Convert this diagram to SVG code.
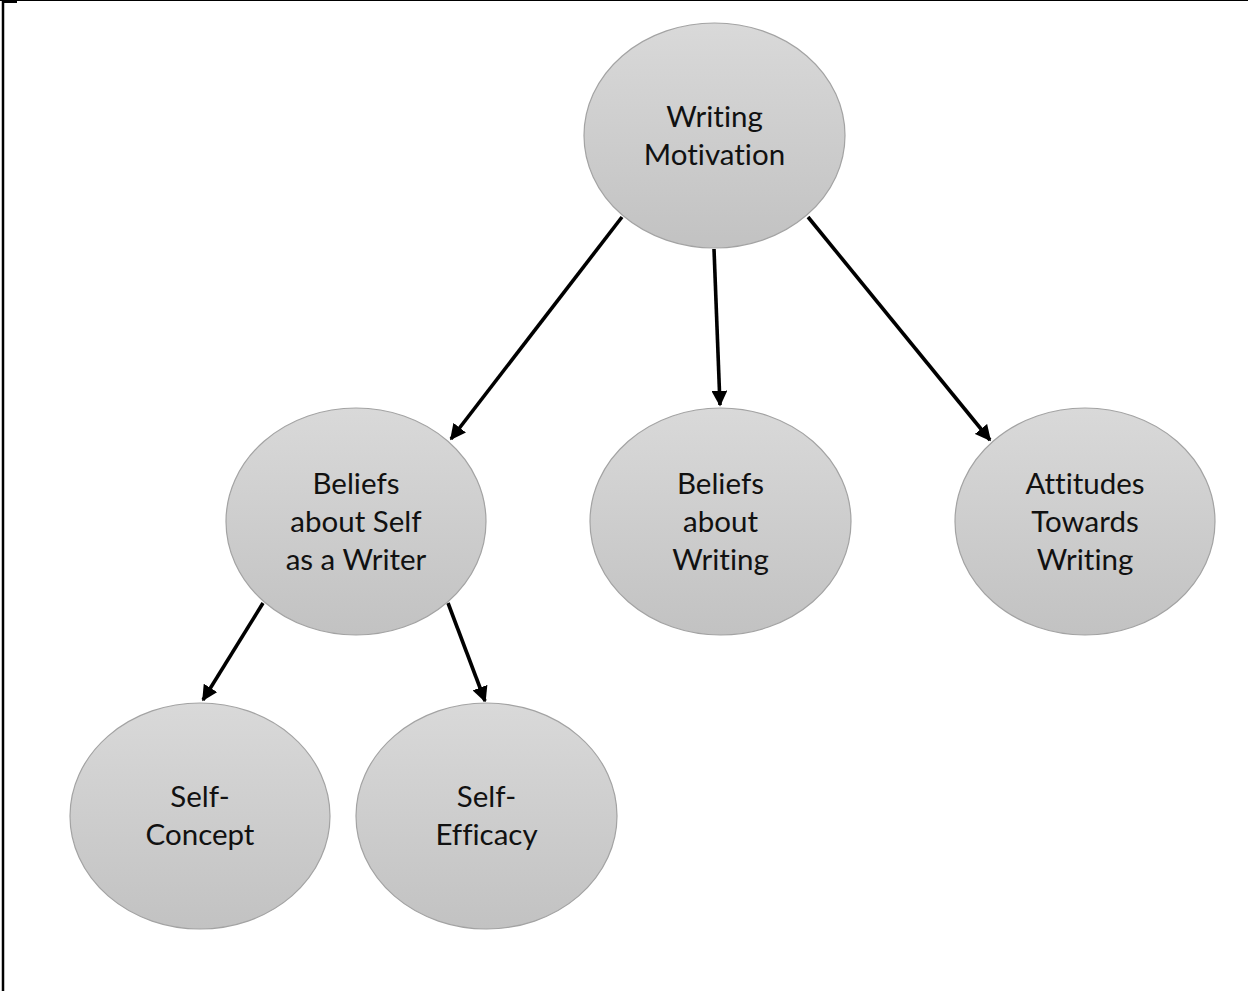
<svg xmlns="http://www.w3.org/2000/svg" width="1248" height="991" viewBox="0 0 1248 991">
  <defs>
    <linearGradient id="bubble" x1="0" y1="0" x2="0" y2="1">
      <stop offset="0" stop-color="#d9d9d9"/>
      <stop offset="1" stop-color="#c2c2c2"/>
    </linearGradient>
    <marker id="arrow" viewBox="0 0 10 10" refX="9" refY="5" markerWidth="4.4" markerHeight="4.4" markerUnits="strokeWidth" orient="auto">
      <path d="M0,0 L10,5 L0,10 Z" fill="#000"/>
    </marker>
    <style>
      .node ellipse { fill: url(#bubble); stroke: #a3a3a3; stroke-width: 1.2; }
      .node text { font-family: "Lato", "Open Sans", "Liberation Sans", sans-serif; font-size: 29.5px; fill: #111; text-anchor: middle; font-variant-ligatures: none; font-feature-settings: "liga" 0, "clig" 0; }
      .edge { stroke: #000; stroke-width: 3.6; fill: none; marker-end: url(#arrow); }
      .frame { stroke: #000; fill: none; }
    </style>
  </defs>

  <rect width="1248" height="991" fill="#fff"/>

  <!-- page frame -->
  <g id="frame">
    <line class="frame" x1="3" y1="0" x2="3" y2="991" stroke-width="2.5"/>
    <line class="frame" x1="0" y1="0.5" x2="1248" y2="0.5" stroke-width="1.2"/>
    <line class="frame" x1="2" y1="1.5" x2="17" y2="1.5" stroke-width="3"/>
  </g>

  <!-- connectors -->
  <g id="connectors">
    <line class="edge" x1="622" y1="217" x2="451" y2="439"/>
    <line class="edge" x1="714" y1="249" x2="720" y2="405"/>
    <line class="edge" x1="808" y1="217" x2="990" y2="440"/>
    <line class="edge" x1="263" y1="603" x2="203" y2="700"/>
    <line class="edge" x1="448" y1="603" x2="485" y2="701"/>
  </g>

  <g id="writing-motivation" class="node">
    <ellipse cx="714.5" cy="135.5" rx="130.5" ry="112.5"/>
    <text x="714.5" y="127">Writing</text>
    <text x="714.5" y="165">Motivation</text>
  </g>

  <g id="beliefs-self" class="node">
    <ellipse cx="356" cy="521.5" rx="130" ry="113.5"/>
    <text x="356" y="494">Beliefs</text>
    <text x="356" y="532">about Self</text>
    <text x="356" y="570">as a Writer</text>
  </g>

  <g id="beliefs-writing" class="node">
    <ellipse cx="720.5" cy="521.5" rx="130.5" ry="113.5"/>
    <text x="720.5" y="494">Beliefs</text>
    <text x="720.5" y="532">about</text>
    <text x="720.5" y="570">Writing</text>
  </g>

  <g id="attitudes" class="node">
    <ellipse cx="1085" cy="521.5" rx="130" ry="113.5"/>
    <text x="1085" y="494">Attitudes</text>
    <text x="1085" y="532">Towards</text>
    <text x="1085" y="570">Writing</text>
  </g>

  <g id="self-concept" class="node">
    <ellipse cx="200" cy="816" rx="130" ry="113"/>
    <text x="200" y="807">Self-</text>
    <text x="200" y="845">Concept</text>
  </g>

  <g id="self-efficacy" class="node">
    <ellipse cx="486.5" cy="816" rx="130.5" ry="113"/>
    <text x="486.5" y="807">Self-</text>
    <text x="486.5" y="845">Efficacy</text>
  </g>
</svg>
